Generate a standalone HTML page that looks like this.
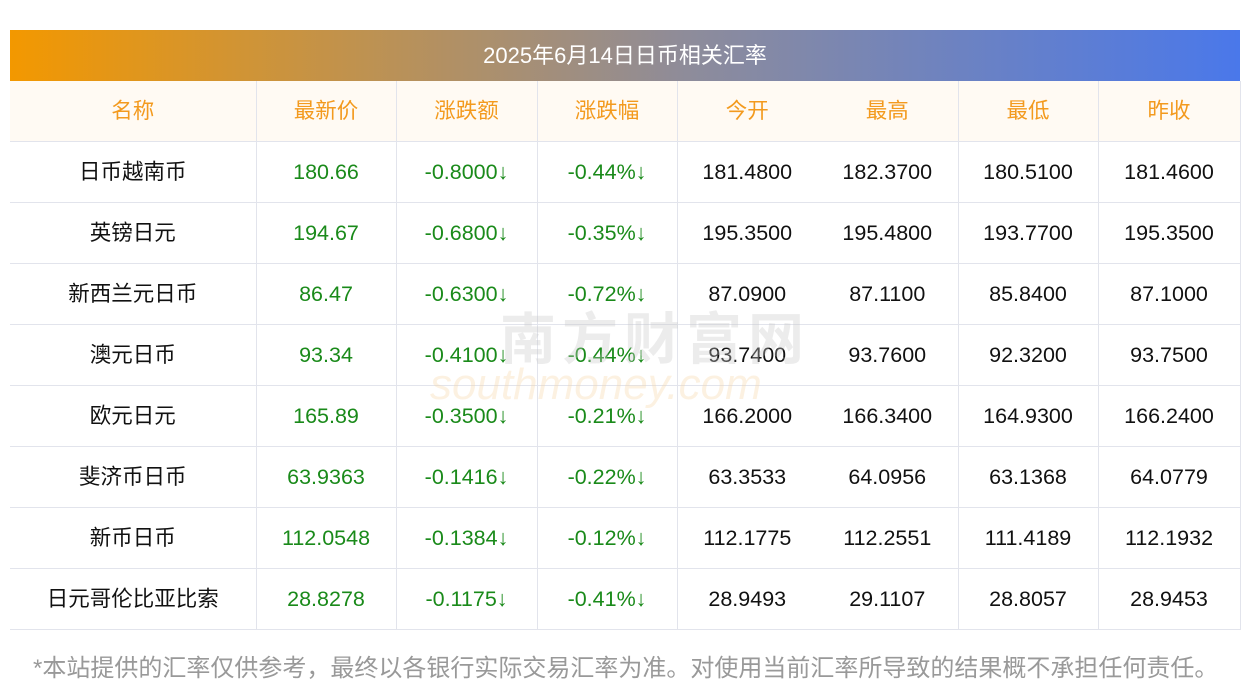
<!DOCTYPE html>
<html><head><meta charset="utf-8"><style>
body{margin:0;width:1250px;height:698px;background:#fff;font-family:"Liberation Sans","Noto Sans CJK SC",sans-serif;position:relative;overflow:hidden}
.title{position:absolute;left:10px;top:30px;width:1230px;height:51px;background:linear-gradient(90deg,#f39800,#8e8c9a 55%,#4a78ea);color:#fff;font-size:22px;text-align:center;line-height:51px}
table{position:absolute;left:10px;top:81px;width:1230px;border-collapse:collapse;table-layout:fixed}
td,th{height:60px;line-height:60px;vertical-align:middle;border-bottom:1px solid #e2e4ec;text-align:center;font-size:21.5px;font-weight:normal;padding:0;color:#111;white-space:nowrap}
th{color:#f39a1e;background:#fffaf3}
td.b,th.b{border-right:1px solid #e2e4ec}
.g{color:#1a8a1a}
.foot{position:absolute;left:33px;top:648px;font-size:24px;color:#999;white-space:nowrap}
.wm{position:absolute;left:500px;top:295px;font-size:56px;color:rgba(200,200,200,.35);letter-spacing:6px;font-weight:bold}
.wm2{position:absolute;left:430px;top:360px;font-size:44px;color:rgba(245,215,170,.35);font-style:italic}
</style></head><body>
<div class="title">2025年6月14日日币相关汇率</div>
<table>
<colgroup><col style="width:246px"><col style="width:140px"><col style="width:141px"><col style="width:140px"><col style="width:140px"><col style="width:141px"><col style="width:140px"><col style="width:142px"></colgroup>
<tr><th class="b">名称</th><th class="b">最新价</th><th class="b">涨跌额</th><th class="b">涨跌幅</th><th>今开</th><th class="b">最高</th><th class="b">最低</th><th class="b">昨收</th></tr>
<tbody id="tb"></tbody></table>
<div class="wm">南方财富网</div>
<div class="wm2">southmoney.com</div>
<div class="foot">*本站提供的汇率仅供参考，最终以各银行实际交易汇率为准。对使用当前汇率所导致的结果概不承担任何责任。</div>
<script>
const names=["日币越南币","英镑日元","新西兰元日币","澳元日币","欧元日元","斐济币日币","新币日币","日元哥伦比亚比索"];
const latest=["180.66","194.67","86.47","93.34","165.89","63.9363","112.0548","28.8278"];
const chg=["-0.8000","-0.6800","-0.6300","-0.4100","-0.3500","-0.1416","-0.1384","-0.1175"];
const pct=["-0.44%","-0.35%","-0.72%","-0.44%","-0.21%","-0.22%","-0.12%","-0.41%"];
const open=["181.4800","195.3500","87.0900","93.7400","166.2000","63.3533","112.1775","28.9493"];
const high=["182.3700","195.4800","87.1100","93.7600","166.3400","64.0956","112.2551","29.1107"];
const low=["180.5100","193.7700","85.8400","92.3200","164.9300","63.1368","111.4189","28.8057"];
const prev=["181.4600","195.3500","87.1000","93.7500","166.2400","64.0779","112.1932","28.9453"];
const tb=document.getElementById('tb');
names.forEach((n,i)=>{
const tr=document.createElement('tr');


tr.innerHTML=`<td class="b">${n}</td><td class="b g">${latest[i]}</td><td class="b g">${chg[i]}↓</td><td class="b g">${pct[i]}↓</td><td>${open[i]}</td><td class="b">${high[i]}</td><td class="b">${low[i]}</td><td class="b">${prev[i]}</td>`;
tb.appendChild(tr);
});
</script>
</body></html>
